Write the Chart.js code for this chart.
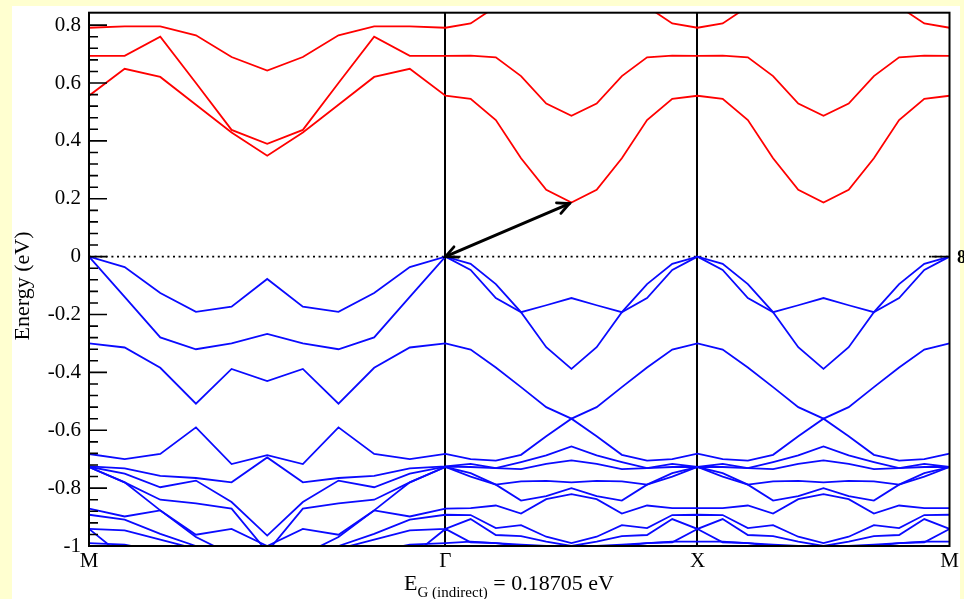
<!DOCTYPE html>
<html><head><meta charset="utf-8">
<script src="https://cdn.jsdelivr.net/npm/chart.js@4.4.1/dist/chart.umd.min.js"></script>
<style>html,body{margin:0;padding:0;background:#ffffd0;} canvas{display:block;}</style>
</head><body>
<canvas id="c" width="964" height="599"></canvas>
<script>
// k-path coordinates (M - Gamma - X - M)
const kpath = [0, 0.1414, 0.2828, 0.4243, 0.5657, 0.7071, 0.8485, 0.9899, 1.1314, 1.2728, 1.4142,
  1.5142, 1.6142, 1.7142, 1.8142, 1.9142, 2.0142, 2.1142, 2.2142, 2.3142, 2.4142,
  2.5142, 2.6142, 2.7142, 2.8142, 2.9142, 3.0142, 3.1142, 3.2142, 3.3142, 3.4142];
const kTickValues = [0, 1.4142, 2.4142, 3.4142];
const kTickLabels = ['M', 'Γ', 'X', 'M'];
const yTickValues = [-1, -0.8, -0.6, -0.4, -0.2, 0, 0.2, 0.4, 0.6, 0.8];
const yTickLabels = ['-1', '-0.8', '-0.6', '-0.4', '-0.2', '0', '0.2', '0.4', '0.6', '0.8'];
const yMinorTicks = [-0.96, -0.92, -0.88, -0.84, -0.76, -0.72, -0.68, -0.64, -0.56, -0.52, -0.48, -0.44,
  -0.36, -0.32, -0.28, -0.24, -0.16, -0.12, -0.08, -0.04, 0.04, 0.08, 0.12, 0.16, 0.24, 0.28, 0.32, 0.36,
  0.44, 0.48, 0.52, 0.56, 0.64, 0.68, 0.72, 0.76];
const fermiLevel = [0, 0];
const gapFrom = [1.4142, 0];
const gapTo = [1.9142, 0.187];
const gapText = ['E', 'G (indirect)', ' = 0.18705 eV'];

// conduction bands (eV)
const C1 = [0.556,0.649,0.621,0.525,0.429,0.349,0.429,0.525,0.621,0.649,0.556,
  0.545,0.472,0.340,0.231,0.187,0.231,0.340,0.472,0.545,0.556,
  0.545,0.472,0.340,0.231,0.187,0.231,0.340,0.472,0.545,0.556];
const C2 = [0.694,0.694,0.760,0.600,0.438,0.390,0.438,0.600,0.760,0.694,0.694,
  0.695,0.689,0.624,0.529,0.487,0.529,0.624,0.689,0.695,0.694,
  0.695,0.689,0.624,0.529,0.487,0.529,0.624,0.689,0.695,0.694];
const C3 = [0.791,0.796,0.796,0.765,0.690,0.643,0.690,0.765,0.796,0.796,0.791,
  0.806,0.864,0.950,1.000,1.020,1.000,0.950,0.864,0.806,0.791,
  0.806,0.864,0.950,1.000,1.020,1.000,0.950,0.864,0.806,0.791];
const C4 = [1.000,1.000,0.980,0.930,0.880,0.845,0.880,0.930,0.980,1.000,1.000,
  1.05,1.05,1.05,1.05,1.05,1.05,1.05,1.05,1.05,1.05,
  1.05,1.05,1.05,1.05,1.05,1.05,1.05,1.05,1.05,1.05];

// valence bands (eV)
const V1 = [0,-0.036,-0.126,-0.191,-0.173,-0.077,-0.173,-0.191,-0.126,-0.036,0,
  -0.025,-0.095,-0.192,-0.168,-0.143,-0.168,-0.192,-0.095,-0.025,0,
  -0.025,-0.095,-0.192,-0.168,-0.143,-0.168,-0.192,-0.095,-0.025,0];
const V2 = [0,-0.139,-0.279,-0.320,-0.300,-0.267,-0.300,-0.320,-0.279,-0.139,0,
  -0.046,-0.143,-0.192,-0.313,-0.388,-0.313,-0.192,-0.143,-0.046,0,
  -0.046,-0.143,-0.192,-0.313,-0.388,-0.313,-0.192,-0.143,-0.046,0];
const V3 = [-0.300,-0.314,-0.384,-0.508,-0.388,-0.430,-0.388,-0.508,-0.384,-0.314,-0.300,
  -0.321,-0.383,-0.451,-0.520,-0.560,-0.520,-0.451,-0.383,-0.321,-0.300,
  -0.321,-0.383,-0.451,-0.520,-0.560,-0.520,-0.451,-0.383,-0.321,-0.300];
const V4 = [-0.682,-0.700,-0.682,-0.590,-0.717,-0.686,-0.717,-0.590,-0.682,-0.700,-0.682,
  -0.700,-0.705,-0.685,-0.621,-0.560,-0.621,-0.685,-0.705,-0.700,-0.681,
  -0.700,-0.705,-0.685,-0.621,-0.560,-0.621,-0.685,-0.705,-0.700,-0.681];
const V5 = [-0.725,-0.732,-0.758,-0.765,-0.780,-0.694,-0.780,-0.765,-0.758,-0.732,-0.725,
  -0.716,-0.731,-0.734,-0.716,-0.704,-0.716,-0.734,-0.731,-0.716,-0.727,
  -0.716,-0.731,-0.734,-0.716,-0.704,-0.716,-0.734,-0.731,-0.716,-0.727];
const V6 = [-0.726,-0.750,-0.797,-0.774,-0.848,-0.964,-0.848,-0.774,-0.797,-0.750,-0.726,
  -0.727,-0.731,-0.710,-0.687,-0.656,-0.687,-0.710,-0.731,-0.727,-0.727,
  -0.727,-0.731,-0.710,-0.687,-0.656,-0.687,-0.710,-0.731,-0.727,-0.727];
const V7 = [-0.727,-0.780,-0.840,-0.853,-0.871,-1.020,-0.871,-0.853,-0.840,-0.780,-0.727,
  -0.748,-0.788,-0.843,-0.828,-0.800,-0.828,-0.843,-0.788,-0.748,-0.727,
  -0.748,-0.788,-0.843,-0.828,-0.800,-0.828,-0.843,-0.788,-0.748,-0.727];
const V8 = [-0.727,-0.780,-0.877,-0.969,-1.030,-1.060,-1.030,-0.969,-0.877,-0.780,-0.727,
  -0.760,-0.788,-0.777,-0.775,-0.780,-0.775,-0.777,-0.788,-0.760,-0.727,
  -0.760,-0.788,-0.777,-0.775,-0.780,-0.775,-0.777,-0.788,-0.760,-0.727];
const V9 = [-0.871,-0.898,-0.877,-0.961,-0.941,-1.000,-0.941,-0.961,-0.877,-0.898,-0.871,
  -0.869,-0.860,-0.888,-0.838,-0.821,-0.838,-0.888,-0.860,-0.869,-0.869,
  -0.869,-0.860,-0.888,-0.838,-0.821,-0.838,-0.888,-0.860,-0.869,-0.869];
const V10 = [-0.892,-0.909,-0.958,-1.000,-1.040,-1.050,-1.040,-1.000,-0.958,-0.909,-0.892,
  -0.893,-0.938,-0.928,-0.968,-0.990,-0.968,-0.928,-0.938,-0.893,-0.892,
  -0.893,-0.938,-0.928,-0.968,-0.990,-0.968,-0.928,-0.938,-0.893,-0.892];
const V11 = [-0.941,-0.946,-0.978,-1.010,-1.050,-1.050,-1.050,-1.010,-0.978,-0.946,-0.941,
  -0.907,-0.962,-0.966,-0.985,-1.000,-0.985,-0.966,-0.962,-0.907,-0.941,
  -0.907,-0.962,-0.966,-0.985,-1.000,-0.985,-0.966,-0.962,-0.907,-0.941];
const V12 = [-0.941,-1.040,-1.060,-1.080,-1.080,-1.080,-1.080,-1.080,-1.060,-1.040,-0.941,
  -0.987,-0.990,-0.995,-1.000,-1.000,-1.000,-0.995,-0.990,-0.987,-0.941,
  -0.987,-0.990,-0.995,-1.000,-1.000,-1.000,-0.995,-0.990,-0.987,-0.941];
const V13 = [-0.990,-0.995,-1.020,-1.040,-1.060,-1.060,-1.060,-1.040,-1.020,-0.995,-0.990,
  -0.985,-0.990,-1.000,-1.020,-1.030,-1.020,-1.000,-0.990,-0.985,-0.985,
  -0.985,-0.990,-1.000,-1.020,-1.030,-1.020,-1.000,-0.990,-0.985,-0.985];

const conduction = [C1, C2, C3, C4];
const valence = [V1, V2, V3, V4, V5, V6, V7, V8, V9, V10, V11, V12, V13];

const SERIF = '"Liberation Serif", "Times New Roman", serif';
const toPts = arr => arr.map((e, i) => ({x: kpath[i], y: e}));
const datasets = [];
conduction.forEach(b => datasets.push({data: toPts(b), borderColor: '#ff0000', borderWidth: 1.8, pointRadius: 0, fill: false, tension: 0}));
valence.forEach(b => datasets.push({data: toPts(b), borderColor: '#0a0aff', borderWidth: 1.8, pointRadius: 0, fill: false, tension: 0}));
datasets.push({data: [{x: kpath[0], y: fermiLevel[0]}, {x: kpath[kpath.length - 1], y: fermiLevel[1]}],
  borderColor: '#000', borderWidth: 1.6, borderDash: [2, 3.6], pointRadius: 0, fill: false});

const decor = {
  id: 'decor',
  beforeDraw(chart) {
    const c = chart.ctx;
    c.save();
    c.fillStyle = '#ffffd0';
    c.fillRect(0, 0, chart.width, chart.height);
    c.fillStyle = '#ffffff';
    c.fillRect(12, 6, 948, chart.height - 6);
    c.restore();
  },
  afterDatasetsDraw(chart) {
    const c = chart.ctx, a = chart.chartArea;
    const xs = chart.scales.x, ys = chart.scales.y;
    c.save();
    // frame
    c.strokeStyle = '#000'; c.lineWidth = 2;
    c.strokeRect(a.left, a.top, a.right - a.left, a.bottom - a.top);
    // inward ticks
    c.lineWidth = 1.6;
    c.beginPath();
    yTickValues.forEach(v => { const y = ys.getPixelForValue(v); c.moveTo(a.left, y); c.lineTo(a.left + 18, y); });
    yMinorTicks.forEach(v => { const y = ys.getPixelForValue(v); c.moveTo(a.left, y); c.lineTo(a.left + 9, y); });
    const y0 = ys.getPixelForValue(0);
    c.moveTo(a.right - 18, y0); c.lineTo(a.right, y0);
    c.stroke();
    // gap arrow
    const x1 = xs.getPixelForValue(gapFrom[0]), y1 = ys.getPixelForValue(gapFrom[1]);
    const x2 = xs.getPixelForValue(gapTo[0]) - 2, y2 = ys.getPixelForValue(gapTo[1]) + 1;
    c.lineWidth = 3; c.lineCap = 'round';
    c.beginPath(); c.moveTo(x1, y1); c.lineTo(x2, y2); c.stroke();
    const head = (tx, ty, fx, fy) => {
      const ang = Math.atan2(ty - fy, tx - fx), L = 13, w = 0.45;
      c.beginPath();
      c.moveTo(tx - L * Math.cos(ang - w), ty - L * Math.sin(ang - w));
      c.lineTo(tx, ty);
      c.lineTo(tx - L * Math.cos(ang + w), ty - L * Math.sin(ang + w));
      c.stroke();
    };
    c.lineWidth = 2.8;
    head(x2, y2, x1, y1);
    head(x1, y1, x2, y2);
    // y title
    c.fillStyle = '#000';
    c.font = '22px ' + SERIF;
    c.textAlign = 'center'; c.textBaseline = 'middle';
    c.save(); c.translate(23, 286); c.rotate(-Math.PI / 2); c.fillText('Energy (eV)', 0, 0); c.restore();
    // gap label
    c.textAlign = 'left'; c.textBaseline = 'alphabetic';
    let x = 404;
    c.font = '22px ' + SERIF; c.fillText(gapText[0], x, 590); x += c.measureText(gapText[0]).width;
    c.font = '15px ' + SERIF; c.fillText(gapText[1], x, 597); x += c.measureText(gapText[1]).width;
    c.font = '22px ' + SERIF; c.fillText(gapText[2], x, 590);
    // clipped label at right edge
    c.font = 'bold 18px ' + SERIF; c.fillText('8', 957, 263);
    c.restore();
  }
};

new Chart(document.getElementById('c'), {
  type: 'line',
  data: {datasets},
  plugins: [decor],
  options: {
    responsive: false, animation: false, devicePixelRatio: 1,
    layout: {padding: {top: 12.7, right: 14.5, left: 0, bottom: 0}},
    plugins: {legend: {display: false}, tooltip: {enabled: false}},
    scales: {
      x: {
        type: 'linear', min: 0, max: kpath[kpath.length - 1],
        afterBuildTicks: s => { s.ticks = kTickValues.map(v => ({value: v})); },
        afterFit: s => { s.height = 53; s.paddingLeft = 0; s.paddingRight = 0; },
        ticks: {callback: (v, i) => kTickLabels[i], font: {family: SERIF, size: 21}, color: '#000', padding: 3, maxRotation: 0, autoSkip: false},
        grid: {color: ctx => (ctx.index === 1 || ctx.index === 2) ? '#000' : 'rgba(0,0,0,0)', lineWidth: 2, drawTicks: false},
        border: {display: false}
      },
      y: {
        type: 'linear', min: -1, max: 0.843,
        afterBuildTicks: s => { s.ticks = yTickValues.map(v => ({value: v})); },
        afterFit: s => { s.width = 89; s.paddingTop = 0; s.paddingBottom = 0; },
        ticks: {callback: (v, i) => yTickLabels[i], font: {family: SERIF, size: 21}, color: '#000', padding: 8, autoSkip: false},
        grid: {display: false, drawTicks: false},
        border: {display: false}
      }
    }
  }
});
</script>
</body></html>
